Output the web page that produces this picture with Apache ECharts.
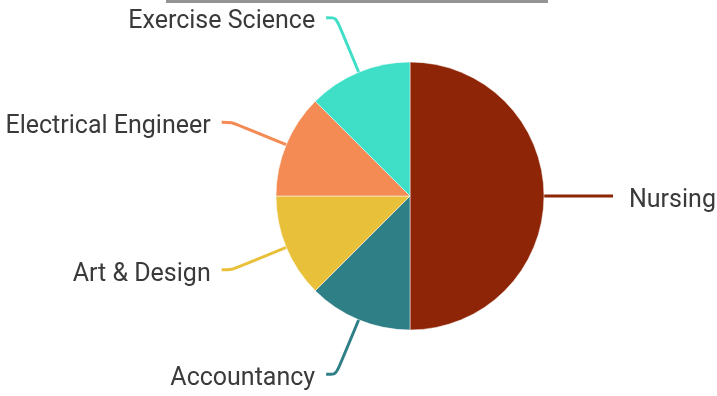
<!DOCTYPE html>
<html>
<head>
<meta charset="utf-8">
<script src="https://cdn.jsdelivr.net/npm/echarts@6/dist/echarts.min.js"></script>
<style>
  html, body { margin: 0; padding: 0; background: #fff; }
  #main { width: 717px; height: 396px; }
</style>
</head>
<body>
<div id="main"></div>
<script>
// 专业分布
const categories = ['Nursing', 'Accountancy', 'Art & Design', 'Electrical Engineer', 'Exercise Science'];
const values = [4, 1, 1, 1, 1];
const colors = ['#8f2507', '#2f7f86', '#e8c03a', '#f58b54', '#3fdec7'];

const chart = echarts.init(document.getElementById('main'));

const option = {
  animation: false,
  graphic: [{
    type: 'rect', // 顶部灰条
    shape: { x: 166, y: 0, width: 382, height: 3 },
    style: { fill: '#939393' }
  }],
  series: [{
    type: 'pie',
    center: [410, 196],
    radius: 134,
    startAngle: 90,
    clockwise: true,
    data: categories.map(function (name, i) {
      return {
        name: name,
        value: values[i],
        itemStyle: { color: colors[i] },
        label: i === 0 ? { distanceToLabelLine: 16 } : {}
      };
    }),
    itemStyle: {
      borderColor: '#fff',
      borderWidth: 0.5
    },
    label: {
      color: '#3a3a3a',
      fontFamily: 'Roboto',
      fontSize: 25,
      overflow: 'none',
      distanceToLabelLine: 11,
      formatter: '{t|{b}}',
      rich: {
        t: {
          color: '#3a3a3a',
          fontFamily: 'Roboto',
          fontSize: 25,
          padding: [9, 0, 0, 0]
        }
      }
    },
    labelLine: {
      length: 59,
      length2: 10,
      smooth: 0.3,
      lineStyle: { width: 3 }
    }
  }]
};
chart.setOption(option);
</script>
</body>
</html>
